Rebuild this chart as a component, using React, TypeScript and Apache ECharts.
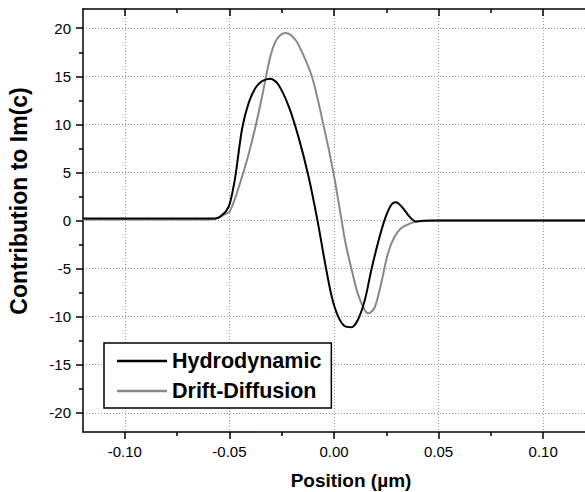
import React, { useEffect, useRef } from "react";
import * as echarts from "echarts";

const hydroX = [-0.12, -0.07, -0.06, -0.057, -0.055, -0.0534, -0.0515, -0.0499, -0.0485, -0.047, -0.0439, -0.0407, -0.0375, -0.0344, -0.0304, -0.0265, -0.0217, -0.017, -0.0122, -0.0079, -0.0043, -0.0011, 0.002, 0.0052, 0.0084, 0.0115, 0.0147, 0.0179, 0.021, 0.0242, 0.0274, 0.0297, 0.0329, 0.0361, 0.0392, 0.0424, 0.05, 0.12];
const hydroY = [0.2, 0.2, 0.2, 0.22, 0.32, 0.6, 1.0, 1.7, 3.0, 4.8, 9.6, 12.3, 13.8, 14.5, 14.75, 14.1, 11.9, 8.7, 4.6, 0, -4.4, -7.9, -10.0, -11.0, -11.1, -10.3, -8.3, -5.1, -2.35, 0.07, 1.64, 1.9, 1.3, 0.4, -0.1, -0.03, 0, 0];

const driftX = [-0.12, -0.07, -0.06, -0.057, -0.055, -0.0525, -0.0499, -0.047, -0.0439, -0.0407, -0.0375, -0.0344, -0.0304, -0.028, -0.0256, -0.023, -0.0201, -0.017, -0.0106, -0.0051, -0.0003, 0.0036, 0.0052, 0.0084, 0.0115, 0.0147, 0.0166, 0.0195, 0.0226, 0.0258, 0.029, 0.0321, 0.0368, 0.04, 0.05, 0.12];
const driftY = [0.1, 0.1, 0.1, 0.15, 0.3, 0.6, 0.94, 2.5, 4.6, 7.0, 9.8, 12.9, 17.1, 18.6, 19.3, 19.5, 19.2, 18.3, 15.0, 10.0, 5.0, 0.07, -2.0, -5.1, -7.7, -9.3, -9.65, -9.0, -6.5, -3.4, -1.67, -0.8, -0.27, -0.1, 0, 0];

const xMajor = [-0.1, -0.05, 0, 0.05, 0.1];
const xMinor = [-0.075, -0.025, 0.025, 0.075];
const yMajor = [-20, -15, -10, -5, 0, 5, 10, 15, 20];
const yMinor = [-17.5, -12.5, -7.5, -2.5, 2.5, 7.5, 12.5, 17.5];

const seriesNames = ["Hydrodynamic", "Drift-Diffusion"];
const xTitle = "Position (\u00b5m)";
const yTitle = "Contribution to Im(c)";

const FONT = "'Liberation Sans', Arial, sans-serif";

export default function App() {
  const ref = useRef<HTMLDivElement>(null);
  useEffect(() => {
    if (!ref.current) return;
    const chart = echarts.init(ref.current, null, { renderer: "svg" });
    const X0 = -0.12, X1 = 0.12, Y0 = -22, Y1 = 22;
    const base = { min: X0, max: X1, type: "value" as const };
    const ybase = { min: Y0, max: Y1, type: "value" as const };
    const axisLine = { show: true, onZero: false, lineStyle: { color: "#000", width: 1.5 } };
    const noLine = { show: false, onZero: false };
    const tickStyle = { color: "#000", width: 1.5 };
    const splitStyle = { show: true, lineStyle: { color: "#999", type: [1, 2] as any, width: 1 } };
    const labelFont = { color: "#000", fontSize: 15, fontFamily: FONT };
    const hData = hydroX.map((x, i) => [x, hydroY[i]]);
    const dData = driftX.map((x, i) => [x, driftY[i]]);
    chart.setOption({
      animation: false,
      grid: { left: 83, top: 9, width: 505, height: 423, containLabel: false },
      xAxis: [
        { ...base, position: "bottom", axisLine,
          axisTick: { show: true, customValues: xMajor, length: 7, lineStyle: tickStyle },
          axisLabel: { show: true, customValues: xMajor, margin: 12, ...labelFont, formatter: (v: number) => v.toFixed(2) },
          splitLine: splitStyle },
        { ...base, position: "bottom", axisLine: noLine,
          axisTick: { show: true, customValues: xMinor, length: 4, lineStyle: tickStyle },
          axisLabel: { show: false }, splitLine: { show: false } },
        { ...base, position: "top", axisLine,
          axisTick: { show: true, inside: true, customValues: xMajor, length: 7, lineStyle: tickStyle },
          axisLabel: { show: false }, splitLine: { show: false } },
        { ...base, position: "top", axisLine: noLine,
          axisTick: { show: true, inside: true, customValues: xMinor, length: 4, lineStyle: tickStyle },
          axisLabel: { show: false }, splitLine: { show: false } },
      ],
      yAxis: [
        { ...ybase, position: "left", axisLine,
          axisTick: { show: true, customValues: yMajor, length: 7, lineStyle: tickStyle },
          axisLabel: { show: true, customValues: yMajor, margin: 12, ...labelFont },
          splitLine: splitStyle },
        { ...ybase, position: "left", axisLine: noLine,
          axisTick: { show: true, customValues: yMinor, length: 4, lineStyle: tickStyle },
          axisLabel: { show: false }, splitLine: { show: false } },
      ],
      legend: {
        show: true,
        data: seriesNames,
        orient: "vertical",
        left: 104, top: 343,
        padding: [5, 10, 4, 13],
        itemGap: 4,
        itemWidth: 50, itemHeight: 2.5,
        icon: "rect",
        borderColor: "#000", borderWidth: 1.5,
        backgroundColor: "#fff",
        textStyle: { fontSize: 21.5, fontWeight: "bold", fontFamily: FONT, color: "#000", lineHeight: 26 },
      },
      graphic: [
        { type: "text", x: 351, y: 480, style: { text: xTitle, fontSize: 19, fontWeight: "bold", fontFamily: FONT, fill: "#000", align: "center", verticalAlign: "middle" } },
        { type: "text", x: 19, y: 201, rotation: Math.PI / 2, style: { text: yTitle, fontSize: 23, fontWeight: "bold", fontFamily: FONT, fill: "#000", align: "center", verticalAlign: "middle" } },
      ],
      series: [
        { name: seriesNames[1], type: "line", data: dData, smooth: 0.3, showSymbol: false, lineStyle: { color: "#888", width: 2 }, itemStyle: { color: "#888" } },
        { name: seriesNames[0], type: "line", data: hData, smooth: 0.3, showSymbol: false, lineStyle: { color: "#000", width: 2 }, itemStyle: { color: "#000" } },
      ],
    });
    return () => chart.dispose();
  }, []);
  return <div ref={ref} style={{ width: 585, height: 492, position: "absolute", left: 0, top: 0 }} />;
}
